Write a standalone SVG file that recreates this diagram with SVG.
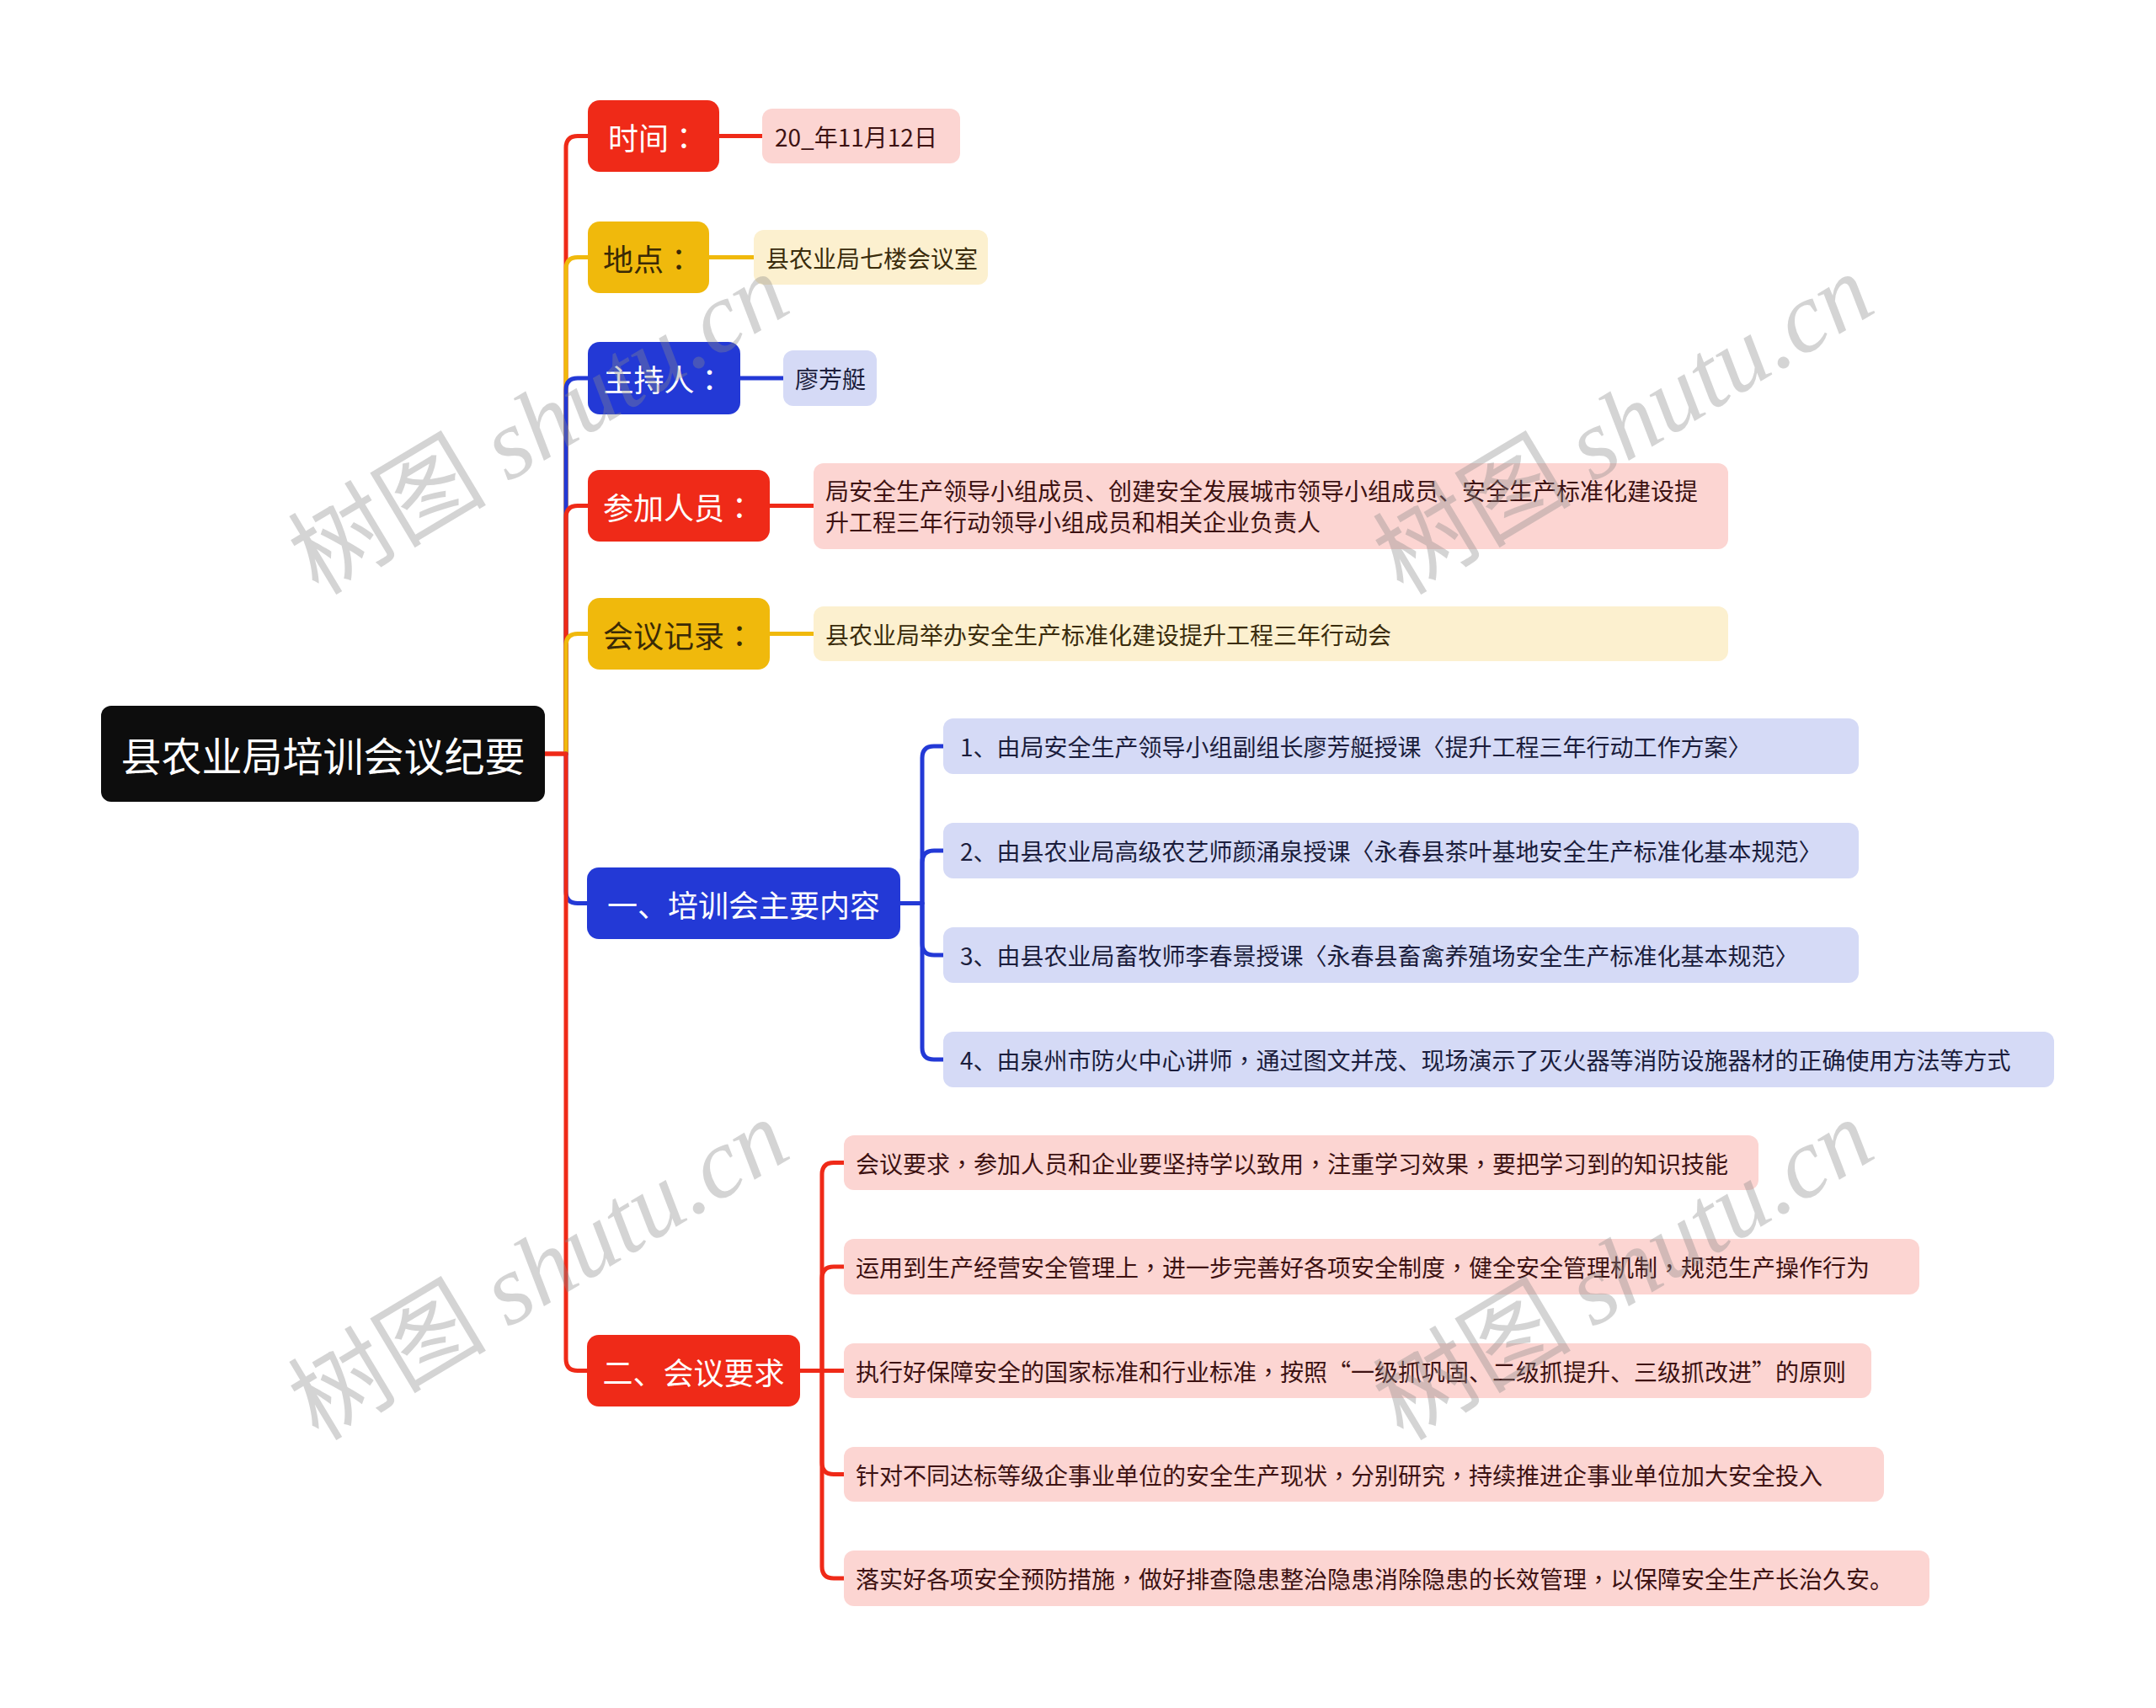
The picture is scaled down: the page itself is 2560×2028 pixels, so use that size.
<svg xmlns="http://www.w3.org/2000/svg" width="2560" height="2028" viewBox="0 0 2560 2028">
<style>
text{font-family:"Noto Sans CJK SC","Noto Sans",sans-serif;dominant-baseline:central}
.p{font-family:"Noto Sans CJK TC","Noto Sans CJK SC",sans-serif}
.root{fill:#0d0d0d}
.rootT{fill:#fff;font-size:48px;text-anchor:middle}
.red{fill:#EF2A18}.yel{fill:#F0B90C}.blu{fill:#2339D6}
.l1W{fill:#fff;font-size:36px;text-anchor:middle}
.l1D{fill:#3a2a06;font-size:36px;text-anchor:middle}
.vP{fill:#FCD5D2}.vY{fill:#FCF0CF}.vB{fill:#D5DAF6}
.tP{fill:#3d1212;font-size:28px}.tY{fill:#3a2c0c;font-size:28px}.tB{fill:#1b1d3c;font-size:28px}
.c{fill:none;stroke-width:5;stroke-linecap:round;stroke-linejoin:round}
.cR{stroke:#EF2A18}.cY{stroke:#F0B90C}.cB{stroke:#2339D6}
.wm{font-size:118px;fill:#8a8a8a;opacity:0.36;dominant-baseline:alphabetic}
.wm tspan.lat{font-family:"Liberation Serif",serif;font-style:italic}
</style>
<rect width="2560" height="2028" fill="#fff"/>
<g id="connectors">
<path class="c cR" d="M647 895H672V175.5Q672 161.5 686 161.5H698"/>
<path class="c cY" d="M672 895V319.5Q672 305.5 686 305.5H698"/>
<path class="c cB" d="M672 895V463Q672 449 686 449H698"/>
<path class="c cR" d="M672 895V614.5Q672 600.5 686 600.5H698"/>
<path class="c cY" d="M672 895V766.5Q672 752.5 686 752.5H698"/>
<path class="c cB" d="M672 895V1058.5Q672 1072.5 686 1072.5H698"/>
<path class="c cR" d="M647 895H672V1613.5Q672 1627.5 686 1627.5H698"/>
<path class="c cR" d="M854 161.5H905"/>
<path class="c cY" d="M842 305.5H895"/>
<path class="c cB" d="M879 449H930"/>
<path class="c cR" d="M914 600.5H966"/>
<path class="c cY" d="M914 752.5H966"/>
<path class="c cB" d="M1069 1072.5H1095V900Q1095 886 1109 886H1120"/>
<path class="c cB" d="M1095 1072.5V1024Q1095 1010 1109 1010H1120"/>
<path class="c cB" d="M1095 1072.5V1120Q1095 1134 1109 1134H1120"/>
<path class="c cB" d="M1095 1072.5V1244Q1095 1258 1109 1258H1120"/>
<path class="c cR" d="M950 1627.5H976V1394.5Q976 1380.5 990 1380.5H1002"/>
<path class="c cR" d="M976 1627.5V1518Q976 1504 990 1504H1002"/>
<path class="c cR" d="M976 1627.5H1002"/>
<path class="c cR" d="M976 1627.5V1736.5Q976 1750.5 990 1750.5H1002"/>
<path class="c cR" d="M976 1627.5V1860Q976 1874 990 1874H1002"/>
</g>
<g id="root"><rect class="root" x="120" y="838" width="527" height="114" rx="12"/><text class="rootT" x="383.5" y="895">县农业局培训会议纪要</text></g>
<g id="n-time"><rect class="red" x="698" y="119" width="156" height="85" rx="14"/><text class="l1W" x="776" y="161.5">时间<tspan class="p">：</tspan></text></g>
<g id="n-time-v"><rect class="vP" x="905" y="129" width="235" height="65" rx="12"/><text class="tP" x="920" y="161.5">20_年11月12日</text></g>
<g id="n-place"><rect class="yel" x="698" y="263" width="144" height="85" rx="14"/><text class="l1D" x="770" y="305.5">地点<tspan class="p">：</tspan></text></g>
<g id="n-place-v"><rect class="vY" x="895" y="273" width="278" height="65" rx="12"/><text class="tY" x="909" y="305.5">县农业局七楼会议室</text></g>
<g id="n-host"><rect class="blu" x="698" y="406" width="181" height="86" rx="14"/><text class="l1W" x="788.5" y="449">主持人<tspan class="p">：</tspan></text></g>
<g id="n-host-v"><rect class="vB" x="930" y="416" width="111" height="66" rx="12"/><text class="tB" x="944" y="449">廖芳艇</text></g>
<g id="n-people"><rect class="red" x="698" y="558" width="216" height="85" rx="14"/><text class="l1W" x="806" y="600.5">参加人员<tspan class="p">：</tspan></text></g>
<g id="n-people-v"><rect class="vP" x="966" y="550" width="1086" height="102" rx="12"/><text class="tP" x="980" y="582">局安全生产领导小组成员、创建安全发展城市领导小组成员、安全生产标准化建设提</text><text class="tP" x="980" y="619">升工程三年行动领导小组成员和相关企业负责人</text></g>
<g id="n-record"><rect class="yel" x="698" y="710" width="216" height="85" rx="14"/><text class="l1D" x="806" y="752.5">会议记录<tspan class="p">：</tspan></text></g>
<g id="n-record-v"><rect class="vY" x="966" y="720" width="1086" height="65" rx="12"/><text class="tY" x="980" y="752.5">县农业局举办安全生产标准化建设提升工程三年行动会</text></g>
<g id="n-one"><rect class="blu" x="697" y="1030" width="372" height="85" rx="14"/><text class="l1W" x="883" y="1072.5">一、培训会主要内容</text></g>
<g id="n-one-1"><rect class="vB" x="1120" y="853" width="1087" height="66" rx="12"/><text class="tB" x="1140" y="886">1、由局安全生产领导小组副组长廖芳艇授课〈提升工程三年行动工作方案〉</text></g>
<g id="n-one-2"><rect class="vB" x="1120" y="977" width="1087" height="66" rx="12"/><text class="tB" x="1140" y="1010">2、由县农业局高级农艺师颜涌泉授课〈永春县茶叶基地安全生产标准化基本规范〉</text></g>
<g id="n-one-3"><rect class="vB" x="1120" y="1101" width="1087" height="66" rx="12"/><text class="tB" x="1140" y="1134">3、由县农业局畜牧师李春景授课〈永春县畜禽养殖场安全生产标准化基本规范〉</text></g>
<g id="n-one-4"><rect class="vB" x="1120" y="1225" width="1319" height="66" rx="12"/><text class="tB" x="1140" y="1258">4、由泉州市防火中心讲师<tspan class="p">，</tspan>通过图文并茂、现场演示了灭火器等消防设施器材的正确使用方法等方式</text></g>
<g id="n-two"><rect class="red" x="697" y="1585" width="253" height="85" rx="14"/><text class="l1W" x="823.5" y="1627.5">二、会议要求</text></g>
<g id="n-two-1"><rect class="vP" x="1002" y="1348" width="1086" height="65" rx="12"/><text class="tP" x="1016" y="1380.5">会议要求<tspan class="p">，</tspan>参加人员和企业要坚持学以致用<tspan class="p">，</tspan>注重学习效果<tspan class="p">，</tspan>要把学习到的知识技能</text></g>
<g id="n-two-2"><rect class="vP" x="1002" y="1471" width="1277" height="66" rx="12"/><text class="tP" x="1016" y="1504">运用到生产经营安全管理上<tspan class="p">，</tspan>进一步完善好各项安全制度<tspan class="p">，</tspan>健全安全管理机制<tspan class="p">，</tspan>规范生产操作行为</text></g>
<g id="n-two-3"><rect class="vP" x="1002" y="1595" width="1220" height="65" rx="12"/><text class="tP" x="1016" y="1627.5">执行好保障安全的国家标准和行业标准<tspan class="p">，</tspan>按照“一级抓巩固、二级抓提升、三级抓改进”的原则</text></g>
<g id="n-two-4"><rect class="vP" x="1002" y="1718" width="1235" height="65" rx="12"/><text class="tP" x="1016" y="1750.5">针对不同达标等级企事业单位的安全生产现状<tspan class="p">，</tspan>分别研究<tspan class="p">，</tspan>持续推进企事业单位加大安全投入</text></g>
<g id="n-two-5"><rect class="vP" x="1002" y="1841" width="1289" height="66" rx="12"/><text class="tP" x="1016" y="1874">落实好各项安全预防措施<tspan class="p">，</tspan>做好排查隐患整治隐患消除隐患的长效管理<tspan class="p">，</tspan>以保障安全生产长治久安。</text></g>
<g id="watermarks">
<text class="wm" transform="translate(378 708) rotate(-31)">树图 <tspan class="lat">shutu.cn</tspan></text>
<text class="wm" transform="translate(1666 708) rotate(-31)">树图 <tspan class="lat">shutu.cn</tspan></text>
<text class="wm" transform="translate(378 1712) rotate(-31)">树图 <tspan class="lat">shutu.cn</tspan></text>
<text class="wm" transform="translate(1666 1712) rotate(-31)">树图 <tspan class="lat">shutu.cn</tspan></text>
</g>
</svg>
